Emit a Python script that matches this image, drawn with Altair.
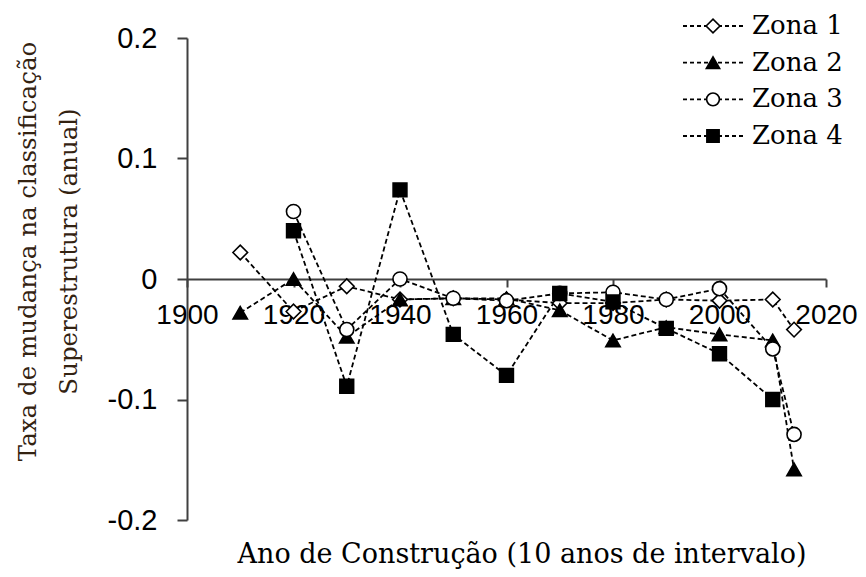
import altair as alt
import pandas as pd

zones = ["Zona 1", "Zona 2", "Zona 3", "Zona 4"]

years_z1 = [1910, 1920, 1930, 1940, 1950, 1960, 1970, 1980, 1990, 2000, 2010, 2014]
vals_z1 = [0.022, -0.027, -0.006, -0.017, -0.016, -0.017, -0.020, -0.020, -0.017, -0.018, -0.017, -0.042]

years_z2 = [1910, 1920, 1930, 1940, 1950, 1960, 1970, 1980, 1990, 2000, 2010, 2014]
vals_z2 = [-0.028, 0.000, -0.048, -0.017, -0.016, -0.016, -0.026, -0.051, -0.040, -0.046, -0.051, -0.158]

years_z3 = [1920, 1930, 1940, 1950, 1960, 1970, 1980, 1990, 2000, 2010, 2014]
vals_z3 = [0.056, -0.042, 0.000, -0.016, -0.018, -0.012, -0.011, -0.017, -0.008, -0.058, -0.129]

years_z4 = [1920, 1930, 1940, 1950, 1960, 1970, 1980, 1990, 2000, 2010]
vals_z4 = [0.040, -0.089, 0.074, -0.046, -0.080, -0.012, -0.019, -0.041, -0.062, -0.100]

x_ticks = [1900, 1920, 1940, 1960, 1980, 2000, 2020]
y_ticks = [-0.2, -0.1, 0, 0.1, 0.2]

SANS = "Liberation Sans"
SERIF = "DejaVu Serif"

rows = []
for zone, ys, vs in zip(zones, [years_z1, years_z2, years_z3, years_z4],
                        [vals_z1, vals_z2, vals_z3, vals_z4]):
    for a, v in zip(ys, vs):
        rows.append({"zone": zone, "ano": a, "taxa": v})
df = pd.DataFrame(rows)
leg_df = pd.DataFrame({"zone": zones})

shape_scale = alt.Scale(domain=zones, range=["diamond", "triangle-up", "circle", "square"])
fill_scale = alt.Scale(domain=zones, range=["white", "black", "white", "black"])
size_scale = alt.Scale(domain=zones, range=[215, 190, 240, 180])
leg_size_scale = alt.Scale(domain=zones, range=[190, 150, 180, 150])

x_enc = alt.X(
    "ano:Q",
    scale=alt.Scale(domain=[1900, 2020], nice=False, zero=False),
    axis=alt.Axis(
        values=x_ticks, format="d", grid=False, offset=-241,
        labelFont=SANS, labelFontSize=28, labelColor="black",
        labelPadding=14, labelFlush=False, labelOverlap=False,
        tickSize=8, tickWidth=2, tickColor="#404040",
        domainColor="#404040", domainWidth=2,
        title="Ano de Construção (10 anos de intervalo)",
        titleFont=SERIF, titleFontSize=27, titleFontWeight="normal",
        titleColor="black", titleX=334.5, titleY=275,
        titleAlign="center", titleBaseline="middle",
    ),
)
y_enc = alt.Y(
    "taxa:Q",
    scale=alt.Scale(domain=[-0.2, 0.2], nice=False, zero=False),
    axis=alt.Axis(
        values=y_ticks, labelExpr="'' + datum.value", grid=False,
        labelFont=SANS, labelFontSize=29, labelColor="black",
        labelPadding=20, tickSize=10, tickWidth=2, tickColor="#404040",
        domainColor="#404040", domainWidth=2,
        title=["Taxa de mudança na classificação", "Superestrutura (anual)"],
        titleFont=SERIF, titleFontSize=24.5, titleFontWeight="normal",
        titleColor="#332211", titleLineHeight=41,
        titleX=-159, titleY=213, titleAlign="center", titleBaseline="middle",
    ),
)

lines = alt.Chart(df).mark_line(
    color="black", strokeWidth=1.8, strokeDash=[5, 3]
).encode(x=x_enc, y=y_enc, detail="zone:N", order="ano:Q")

points = alt.Chart(df).mark_point(
    filled=True, stroke="black", strokeWidth=1.6, opacity=1
).encode(
    x="ano:Q", y="taxa:Q",
    shape=alt.Shape("zone:N", scale=shape_scale, legend=None),
    fill=alt.Fill("zone:N", scale=fill_scale, legend=None),
    size=alt.Size("zone:N", scale=size_scale, legend=None),
)

main = alt.layer(lines, points)

ly = alt.Y("zone:N", scale=alt.Scale(type="point", domain=zones, range=[-12, 98], padding=0), axis=None)

leg_line = alt.Chart(leg_df).mark_rule(
    color="black", strokeWidth=1.8, strokeDash=[4, 3]
).encode(x=alt.value(496), x2=alt.value(556), y=ly)

leg_pts = alt.Chart(leg_df).mark_point(
    filled=True, stroke="black", strokeWidth=1.6, opacity=1
).encode(
    x=alt.value(526), y=ly,
    shape=alt.Shape("zone:N", scale=shape_scale, legend=None),
    fill=alt.Fill("zone:N", scale=fill_scale, legend=None),
    size=alt.Size("zone:N", scale=leg_size_scale, legend=None),
)

leg_txt = alt.Chart(leg_df).mark_text(
    align="left", baseline="middle", font=SERIF, fontSize=26, color="black"
).encode(x=alt.value(565), y=ly, text="zone:N")

legend = alt.layer(leg_line, leg_pts, leg_txt)

chart = alt.layer(main, legend).resolve_scale(
    x="independent", y="independent", size="independent"
).properties(
    width=639, height=482,
    padding={"left": 179, "top": 30, "right": 32, "bottom": 49},
    autosize=alt.AutoSizeParams(type="none"),
    background="white",
).configure_view(stroke=None)

chart.save("out.html", embed_options={"renderer": "svg", "actions": False})
